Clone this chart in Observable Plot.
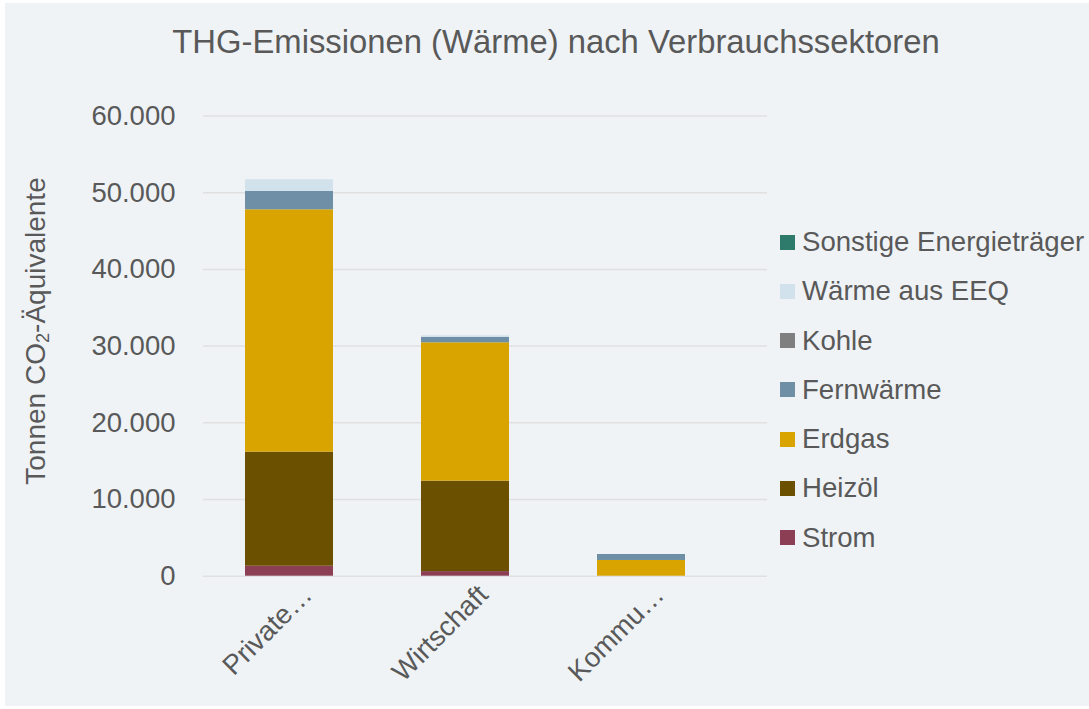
<!DOCTYPE html>
<html>
<head>
<meta charset="utf-8">
<script src="https://cdn.jsdelivr.net/npm/d3@7"></script>
<script src="https://cdn.jsdelivr.net/npm/@observablehq/plot@0.6"></script>
<style>
  html, body { margin: 0; padding: 0; background: #ffffff; }
  #wrap { position: relative; width: 1089px; height: 709px; overflow: hidden; font-family: "Liberation Sans", Arial, sans-serif; color: #595959; }
  #bg { position: absolute; left: 5px; top: 3px; width: 1084px; height: 703px; background: #eff3f6; }
  #chart { position: absolute; left: 0; top: 0; }
  #title { position: absolute; left: 0; width: 1112px; top: 23px; text-align: center; font-size: 32.8px; color: #595959; white-space: nowrap; }
  #ylabel { position: absolute; left: 37px; top: 331px; transform: translate(-50%, -50%) rotate(-90deg); font-size: 28px; white-space: nowrap; color: #595959; }
  #ylabel sub { font-size: 0.65em; vertical-align: -0.25em; }
  #legend { position: absolute; left: 780px; top: 224px; }
  .item { position: absolute; left: 0; height: 36px; display: flex; align-items: center; white-space: nowrap; font-size: 27.6px; color: #595959; }
  .sw { width: 15px; height: 15px; margin-right: 7px; flex: none; }
</style>
</head>
<body>
<div id="wrap">
  <div id="bg"></div>
  <div id="chart"></div>
  <div id="title">THG-Emissionen (Wärme) nach Verbrauchssektoren</div>
  <div id="ylabel">Tonnen CO<sub>2</sub>-Äquivalente</div>
  <div id="legend"></div>
</div>
<script>
// Categories (x axis)
const sectors = ["Private…", "Wirtschaft", "Kommu…"];

// Series, stacked bottom to top
const series = ["Strom", "Heizöl", "Erdgas", "Fernwärme", "Kohle", "Wärme aus EEQ", "Sonstige Energieträger"];
const seriesColors = ["#8b3e54", "#6b5000", "#d9a300", "#6f8fa6", "#7f7f7f", "#d1e2ec", "#2f7b6b"];

// Values per series (Tonnen CO2-Äquivalente), in sector order
const strom     = [1300, 600, 0];
const heizoel   = [14870, 11790, 0];
const erdgas    = [31600, 18040, 2050];
const fernwaerme = [2400, 690, 780];
const kohle     = [0, 0, 0];
const waermeEEQ = [1520, 220, 0];
const sonstige  = [0, 0, 0];

// Y ticks
const yTicks = [0, 10000, 20000, 30000, 40000, 50000, 60000];

const valuesBySeries = [strom, heizoel, erdgas, fernwaerme, kohle, waermeEEQ, sonstige];
const data = [];
series.forEach((s, i) => sectors.forEach((c, j) => data.push({sector: c, series: s, value: valuesBySeries[i][j]})));

const fmt = d => d.toLocaleString("de-DE");

const chart = Plot.plot({
  width: 1089,
  height: 709,
  marginLeft: 203,
  marginRight: 322,
  marginTop: 115.5,
  marginBottom: 133.3,
  style: { background: "transparent", fontFamily: "Liberation Sans, Arial, sans-serif", fontSize: "27.5px", color: "#595959" },
  x: { domain: sectors, range: [200.6, 730.1], paddingInner: 0.5, paddingOuter: 0.25, label: null },
  y: { domain: [0, 60000], label: null },
  color: { domain: series, range: seriesColors },
  marks: [
    Plot.ruleY(yTicks, { stroke: "#e0e0e0", strokeWidth: 1.5 }),
    Plot.barY(data, Plot.stackY({ x: "sector", y: "value", fill: "series", order: series, insetLeft: 0, insetRight: 0 })),
    Plot.axisY(yTicks, { tickSize: 0, tickPadding: 28, tickFormat: fmt, label: null, fill: "#595959", fontSize: "27.5px" }),
    Plot.axisX({ tickSize: 0, tickRotate: -45, tickPadding: 14, label: null, fill: "#595959", fontSize: "27.5px", dx: 18 })
  ]
});
document.getElementById("chart").appendChild(chart);

// Legend (top to bottom = reverse stacking order)
const legend = document.getElementById("legend");
const legendOrder = series.slice().reverse();
legendOrder.forEach((s, k) => {
  const item = document.createElement("div");
  item.className = "item";
  item.style.top = (k * 49.25) + "px";
  const sw = document.createElement("div");
  sw.className = "sw";
  sw.style.background = seriesColors[series.indexOf(s)];
  const t = document.createElement("span");
  t.textContent = s;
  item.appendChild(sw);
  item.appendChild(t);
  legend.appendChild(item);
});
</script>
</body>
</html>
